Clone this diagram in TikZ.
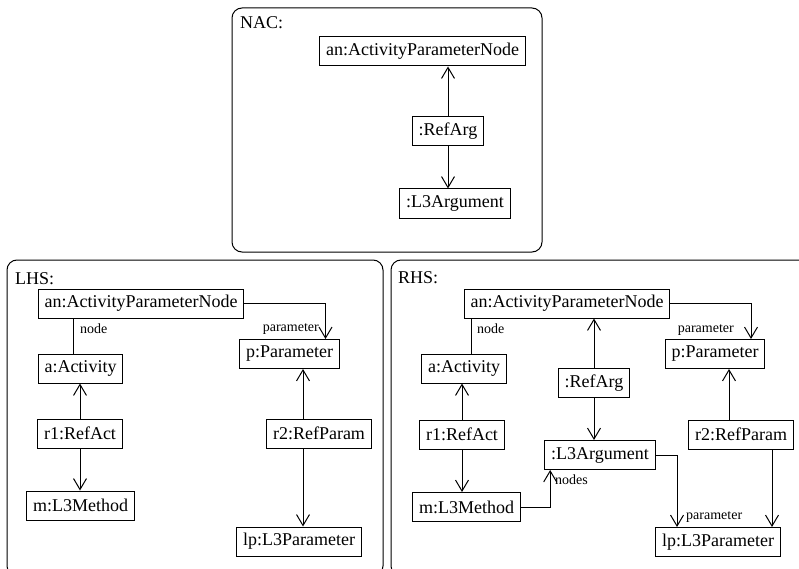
\documentclass[tikz,border=0pt]{standalone}
\usepackage{fontspec}
\setmainfont{Liberation Serif}
\usetikzlibrary{arrows.meta}

\begin{document}
\begin{tikzpicture}[x=1pt,y=-1pt,
  obj/.style={draw,line width=1pt,font=\fontsize{18}{20}\selectfont,inner xsep=6.5pt,inner ysep=2pt,minimum height=29pt},
  role/.style={font=\fontsize{14}{16}\selectfont,inner sep=0pt},
  title/.style={anchor=base west,font=\fontsize{18}{20}\selectfont,inner sep=0pt},
  frame/.style={draw,line width=1pt,rounded corners=10pt},
  ref/.style={-{Straight Barb[length=11pt,width=13pt]},line width=1pt}]
  \useasboundingbox (0,0) rectangle (799,569);
  % the three rule parts
  \draw[frame] (232,8) rectangle (542,252);
  \draw[frame] (7,260) rectangle (383,576);
  \draw[frame] (391,260) rectangle (812,576);
  \node (nactitle) [title] at (240,29) {NAC:};
  \node (lhstitle) [title] at (15,284) {LHS:};
  \node (rhstitle) [title] at (398,283) {RHS:};

  % NAC
  \node (nan)  [obj] at (422.5,51.5) {an:ActivityParameterNode};
  \node (nra)  [obj] at (448,131.5) {:RefArg};
  \node (narg) [obj] at (455,203.5) {:L3Argument};
  \draw[ref] (nra) -- (nra |- nan.south);
  \draw[ref] (nra) -- (nra |- narg.north);

  % LHS
  \node (lan)  [obj] at (141,303.5) {an:ActivityParameterNode};
  \node (lact) [obj] at (80.5,368.5) {a:Activity};
  \node (lr1)  [obj] at (80,433.5) {r1:RefAct};
  \node (lm)   [obj] at (80.5,505.5) {m:L3Method};
  \node (lpar) [obj] at (289.5,354) {p:Parameter};
  \node (lr2)  [obj] at (319,433.5) {r2:RefParam};
  \node (llp)  [obj] at (299,541.5) {lp:L3Parameter};
  \draw ([xshift=-7pt]lact.north) -- ([xshift=-7pt]lact.north |- lan.south);
  \draw[ref] (lan.east) -| ([xshift=36pt]lpar.north);
  \draw[ref] (lr1) -- (lr1 |- lact.south);
  \draw[ref] (lr1) -- (lr1 |- lm.north);
  \draw[ref] ([xshift=-16pt]lr2.north) -- ([xshift=-16pt]lr2.north |- lpar.south);
  \draw[ref] ([xshift=-16pt]lr2.south) -- ([xshift=-16pt]lr2.south |- llp.north);
  \node (lnode)  [role,anchor=west] at (80,329) {node};
  \node (lparam) [role,anchor=east] at (319,329) {parameter};

  % RHS
  \node (ran)  [obj] at (567,303.5) {an:ActivityParameterNode};
  \node (ract) [obj] at (464,368.5) {a:Activity};
  \node (rr1)  [obj] at (462,434.5) {r1:RefAct};
  \node (rm)   [obj] at (466.5,507) {m:L3Method};
  \node (rra)  [obj] at (594,383) {:RefArg};
  \node (rarg) [obj] at (600,455) {:L3Argument};
  \node (rpar) [obj] at (715,354) {p:Parameter};
  \node (rr2)  [obj] at (741,434.5) {r2:RefParam};
  \node (rlp)  [obj] at (718,542) {lp:L3Parameter};
  \draw ([xshift=7pt]ract.north) -- ([xshift=7pt]ract.north |- ran.south);
  \draw[ref] (ran.east) -| ([xshift=36pt]rpar.north);
  \draw[ref] (rr1) -- (rr1 |- ract.south);
  \draw[ref] (rr1) -- (rr1 |- rm.north);
  \draw[ref] (rra) -- (rra |- ran.south);
  \draw[ref] (rra) -- (rra |- rarg.north);
  \draw[ref] (rm.east) -| ([xshift=6pt]rarg.south west);
  \draw[ref] (rarg.east) -| ([xshift=22pt]rlp.north west);
  \draw[ref] ([xshift=-12pt]rr2.north) -- ([xshift=-12pt]rr2.north |- rpar.south);
  \draw[ref] ([xshift=31pt]rr2.south) -- ([xshift=31pt]rr2.south |- rlp.north);
  \node (rnode)   [role,anchor=west] at (477,329) {node};
  \node (rparam)  [role,anchor=east] at (734,330) {parameter};
  \node (rnodes)  [role,anchor=west] at (555,480) {nodes};
  \node (rparam2) [role,anchor=west] at (686,517) {parameter};
\end{tikzpicture}
\end{document}
